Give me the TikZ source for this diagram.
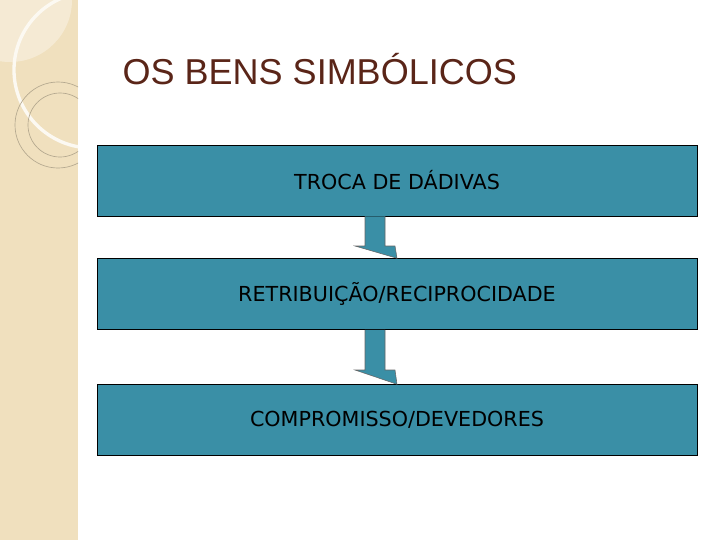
\documentclass[tikz,border=0pt]{standalone}
\usepackage{fontspec}
\setmainfont{DejaVu Sans}
\newfontfamily\titlefont{Liberation Sans}
\definecolor{boxc}{HTML}{3A8FA6}
\definecolor{strip}{HTML}{F0E0BE}
\definecolor{titc}{HTML}{5A2518}
\begin{document}
\begin{tikzpicture}[x=0.75pt,y=-0.75pt,
  stepbox/.style={draw=black,fill=boxc,minimum width=600*0.75pt,minimum height=71*0.75pt,inner sep=0pt,font=\fontsize{15.5}{18}\selectfont},
  arr/.style={draw=black!60,fill=boxc,line width=0.4pt}]
\useasboundingbox (0,0) rectangle (720,540);
\fill[white] (0,0) rectangle (720,540);
\begin{scope}
\clip (0,0) rectangle (78,540);
\fill[strip] (0,0) rectangle (78,540);
\fill[white,opacity=0.35] (10,0) circle (62);
\draw[white!80!strip,line width=2.5pt] (92,70) circle (78);
\draw[black!25!strip,line width=0.5pt] (58,125) circle (43);
\draw[black!25!strip,line width=0.5pt] (60,125) circle (32);
\end{scope}
\node[font=\titlefont\fontsize{27}{30}\selectfont,text=titc,anchor=west] (title) at (118,69) {OS BENS SIMBÓLICOS};
\node[stepbox] (b1) at (397,180.5) {TROCA DE DÁDIVAS};
\node[stepbox] (b2) at (397,294) {RETRIBUIÇÃO/RECIPROCIDADE};
\node[stepbox] (b3) at (397,420) {COMPROMISSO/DEVEDORES};
\draw[arr] (b1.south -| 365,0) -- (365,246) -- (355,246) -- (b2.north) -- (395,246) -- (385,246) -- (b1.south -| 385,0);
\draw[arr] (b2.south -| 365,0) -- (365,370) -- (355,370) -- (b3.north) -- (395,370) -- (385,370) -- (b2.south -| 385,0);
\end{tikzpicture}
\end{document}
